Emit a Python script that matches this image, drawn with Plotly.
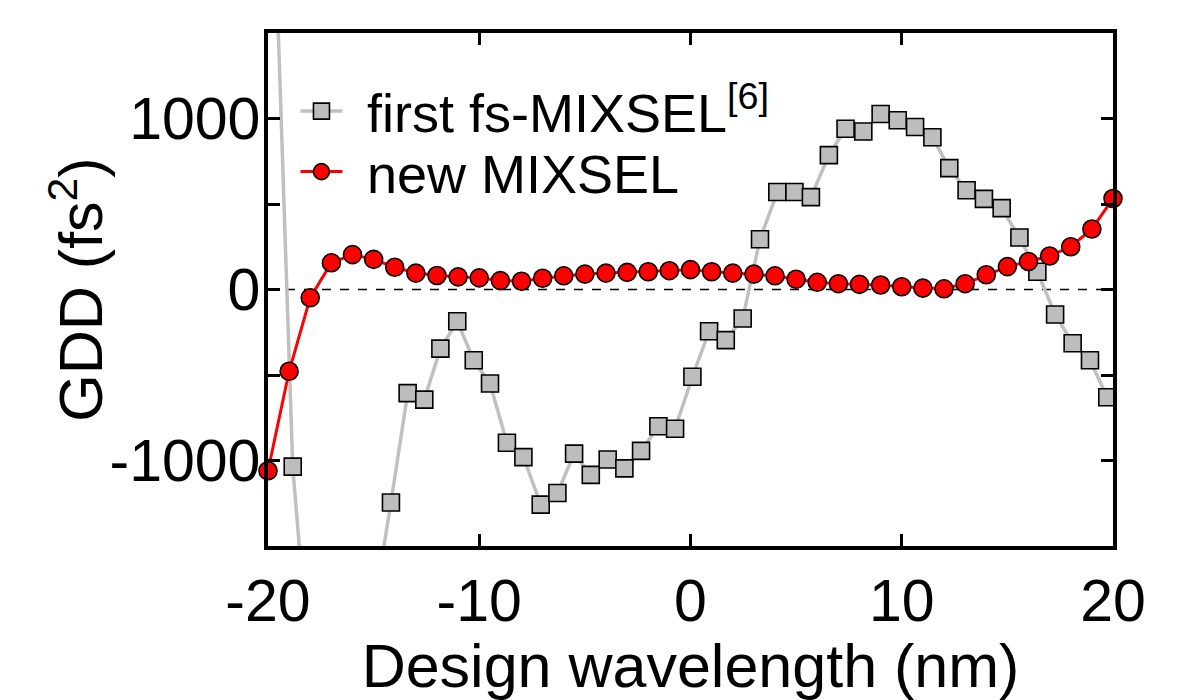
import plotly.graph_objects as go

# Design wavelength offsets (nm) and GDD (fs^2) of the earlier fs-MIXSEL
first_wl = [-19.61, -18.83, -18.05, -17.27, -16.49, -15.71, -14.93, -14.18, -13.39, -12.60,
            -11.84, -11.04, -10.26, -9.49, -8.69, -7.91, -7.09, -6.30, -5.51, -4.72,
            -3.92, -3.13, -2.34, -1.52, -0.73, 0.09, 0.88, 1.67, 2.47, 3.29,
            4.11, 4.92, 5.70, 6.55, 7.34, 8.18, 9.00, 9.81, 10.63, 11.45,
            12.25, 13.07, 13.89, 14.73, 15.57, 16.42, 17.26, 18.09, 18.91, 19.73]
first_gdd = [1870, -1036, -2200, -2700, -2800, -2500, -1820, -1246, -606, -644,
             -346, -186, -414, -550, -896, -980, -1258, -1190, -960, -1084,
             -994, -1046, -944, -800, -814, -510, -244, -296, -170, 294,
             570, 570, 540, 786, 940, 924, 1026, 990, 950, 890,
             710, 580, 530, 476, 304, 104, -146, -314, -414, -630]

# New MIXSEL design, 1 nm steps
new_wl = list(range(-20, 21))
new_gdd = [-1060, -478, -48, 156, 204, 176, 130, 96, 82, 74,
           68, 52, 48, 66, 80, 90, 96, 100, 104, 110,
           116, 104, 96, 90, 80, 60, 42, 34, 30, 26,
           16, 8, 4, 34, 86, 134, 164, 196, 250, 354, 532]

x_ticks = [-20, -10, 0, 10, 20]
y_ticks = [-1500, -1000, -500, 0, 500, 1000, 1500]
y_ticktext = ["", "-1000", "", "0", "", "1000", ""]

FONT = "Liberation Sans, Arial, sans-serif"
GAP = "\u00a0\u200a"  # small gap between legend symbol and label

fig = go.Figure()

fig.add_trace(go.Scatter(
    x=first_wl, y=first_gdd, mode="lines+markers",
    name=GAP + "first fs-MIXSEL<sup>[6]</sup>",
    line=dict(color="#c0c0c0", width=3.5),
    marker=dict(symbol="square", size=17, color="#bdbdbd",
                line=dict(color="black", width=1.6)),
    cliponaxis=True,
    legend="legend",
))

fig.add_trace(go.Scatter(
    x=new_wl, y=new_gdd, mode="lines+markers",
    name=GAP + "new MIXSEL",
    line=dict(color="#ff0000", width=3),
    marker=dict(symbol="circle", size=18, color="#ff0000",
                line=dict(color="black", width=1.6)),
    cliponaxis=False,
    legend="legend2",
))

# zero-GDD reference
fig.add_shape(type="line", xref="x domain", yref="y", x0=0, x1=1, y0=0, y1=0,
              line=dict(color="black", width=1.5, dash="dash"), layer="below")

axis_common = dict(
    showline=True, linecolor="black", linewidth=3.5, mirror="ticks",
    ticks="inside", ticklen=12, tickwidth=3, tickcolor="black",
    showgrid=False, zeroline=False,
    tickfont=dict(family=FONT, size=59, color="black"),
)

fig.update_xaxes(
    range=[-20, 20], tickvals=x_ticks, ticktext=[str(v) for v in x_ticks],
    title=dict(text="Design wavelength (nm)", font=dict(family=FONT, size=61, color="black"),
               standoff=12),
    **axis_common,
)
fig.update_yaxes(
    range=[-1500, 1500], tickvals=y_ticks, ticktext=y_ticktext,
    ticklabelstandoff=-8,
    **axis_common,
)

# y-axis title placed explicitly
fig.add_annotation(
    text="GDD (fs<sup>2</sup>)", xref="paper", yref="paper",
    x=-0.227, y=0.5, xanchor="center", yanchor="middle",
    textangle=-90, showarrow=False,
    font=dict(family=FONT, size=61, color="black"),
)

legend_common = dict(
    xanchor="left", yanchor="middle",
    font=dict(family=FONT, size=54, color="black"),
    bgcolor="rgba(0,0,0,0)", borderwidth=0,
    itemwidth=42,
)

fig.update_layout(
    width=1191, height=700,
    margin=dict(l=268, r=78, t=33, b=152),
    plot_bgcolor="white", paper_bgcolor="white",
    font=dict(family=FONT, color="black"),
    legend=dict(x=0.0325, y=0.847, **legend_common),
    legend2=dict(x=0.0325, y=0.729, **legend_common),
    showlegend=True,
)

fig.write_html("out.html")
